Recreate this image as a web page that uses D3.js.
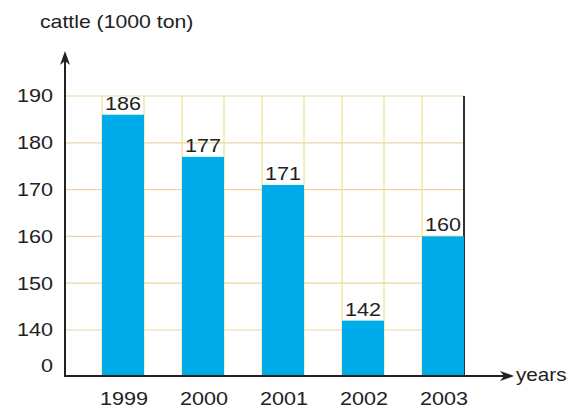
<!DOCTYPE html>
<html><head><meta charset="utf-8">
<script src="https://cdn.jsdelivr.net/npm/d3@7"></script>
<style>
html,body{margin:0;padding:0;background:#fff;}
text{font-family:"Liberation Sans",Arial,sans-serif;fill:#222;}
</style></head>
<body>
<svg id="c" width="581" height="410"></svg>
<script>
const years = ["1999","2000","2001","2002","2003"];
const values = [186,177,171,142,160];
const yTicks = [0,140,150,160,170,180,190];
const yTitle = "cattle (1000 ton)";
const xTitle = "years";

const svg = d3.select("#c");
const stretch = 1.2;
const x0 = 65, yBase = 376, yTop = 96;

const x = d3.scaleBand().domain(years).range([x0, 501]).paddingInner(0.475).paddingOuter(0.4625);
const y = d3.scaleLinear().domain([0,140,190]).range([yBase,330,yTop]);
const gridRight = x(years[years.length-1]) + x.bandwidth();

// grid
const g = svg.append("g");
g.selectAll("line.h").data(yTicks.filter(d=>d>0)).join("line")
  .attr("x1", x0).attr("x2", gridRight)
  .attr("y1", d=>y(d)).attr("y2", d=>y(d))
  .attr("stroke","#e8d7a4").attr("stroke-width",1.2);
const vx = [];
years.forEach(d=>{ vx.push(x(d)); vx.push(x(d)+x.bandwidth()); });
g.selectAll("line.v").data(vx.slice(0,-1)).join("line")
  .attr("x1", d=>d).attr("x2", d=>d)
  .attr("y1", yTop).attr("y2", yBase)
  .attr("stroke","#f2df92").attr("stroke-width",1.2);
// right border
g.append("line").attr("x1",gridRight).attr("x2",gridRight)
  .attr("y1",yTop).attr("y2",yBase).attr("stroke","#333").attr("stroke-width",2);

// bars
svg.selectAll("rect.bar").data(years).join("rect")
  .attr("x", d=>x(d)).attr("width", x.bandwidth())
  .attr("y", (d,i)=>y(values[i])).attr("height", (d,i)=>yBase - y(values[i]))
  .attr("fill","#00abea");

function stext(sel){
  return sel;
}
// value labels
svg.selectAll("text.val").data(years).join("text")
  .attr("text-anchor","middle").attr("font-size",18)
  .attr("transform",(d,i)=>`translate(${x(d)+x.bandwidth()/2},${y(values[i])-5}) scale(${stretch},1)`)
  .text((d,i)=>values[i]);

// axes
svg.append("line").attr("x1",x0).attr("x2",x0).attr("y1",yBase+1).attr("y2",60)
  .attr("stroke","#222").attr("stroke-width",2);
svg.append("path").attr("d",`M${x0},51 L${x0-5},65 L${x0},61 L${x0+5},65 Z`).attr("fill","#222");
svg.append("line").attr("x1",x0-1).attr("x2",505).attr("y1",yBase).attr("y2",yBase)
  .attr("stroke","#222").attr("stroke-width",2);
svg.append("path").attr("d",`M514,${yBase} L500,${yBase-5} L504,${yBase} L500,${yBase+5} Z`).attr("fill","#222");

// y tick labels
svg.selectAll("text.yt").data(yTicks).join("text")
  .attr("text-anchor","end").attr("font-size",18).attr("dy","0.35em")
  .attr("transform",d=>`translate(53,${d===0 ? y(d)-10 : y(d)}) scale(${stretch},1)`)
  .text(d=>d);

// x tick labels
svg.selectAll("text.xt").data(years).join("text")
  .attr("text-anchor","middle").attr("font-size",18)
  .attr("transform",d=>`translate(${x(d)+x.bandwidth()/2+1},405) scale(${stretch},1)`)
  .text(d=>d);

// titles
svg.append("text").attr("font-size",18)
  .attr("transform",`translate(40,28) scale(1.18,1)`).text(yTitle);
svg.append("text").attr("font-size",18)
  .attr("transform",`translate(516,381) scale(1.15,1)`).text(xTitle);
</script>
</body></html>
